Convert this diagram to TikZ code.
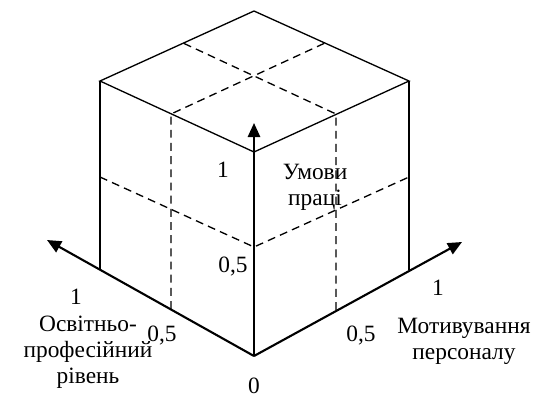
\documentclass[tikz,border=0pt]{standalone}
\usepackage{fontspec}
\setmainfont{Liberation Serif}
\newfontfamily\cubefont{Liberation Serif}
\usetikzlibrary{arrows.meta}

\begin{document}
\begin{tikzpicture}[
  x=0.02cm, y=-0.02cm,
  >={Triangle[length=8pt, width=7pt]},
  edge/.style={line width=0.75pt},
  axis/.style={->, line width=1.2pt},
  grid/.style={line width=0.75pt, dash pattern=on 4.5pt off 3pt},
  lbl/.style={font=\cubefont\fontsize{13.3}{14.8}\selectfont, inner sep=0pt, align=center}
]
  \useasboundingbox (0,0) rectangle (538,397);
  % vertices of the cube
  \coordinate (O)  at (254,356);
  \coordinate (F)  at (254,152);
  \coordinate (L)  at (100,269);
  \coordinate (LT) at (100,81);
  \coordinate (R)  at (409,270);
  \coordinate (RT) at (409,81);
  \coordinate (B)  at (254,11);
  % axis tips
  \coordinate (zt) at (254,123);
  \coordinate (xt) at (47,240);
  \coordinate (yt) at (462,242);
  % points of the dashed grid
  \coordinate (m1) at (171,114);
  \coordinate (m2) at (336,114);
  \coordinate (m3) at (183,43);
  \coordinate (m4) at (325,43);
  \coordinate (b1) at (171,309);
  \coordinate (b2) at (336,310);
  \coordinate (h1) at (100,177);
  \coordinate (h2) at (254,247);
  \coordinate (h3) at (409,177);
  % solid edges
  \draw[edge] (LT) -- (F) -- (RT) -- (B) -- cycle;
  \draw[edge] (LT) -- (L);
  \draw[edge] (RT) -- (R);
  % dashed grid
  \draw[grid] (b1) -- (m1) -- (m4);
  \draw[grid] (b2) -- (m2) -- (m3);
  \draw[grid] (h1) -- (h2) -- (h3);
  % axes
  \draw[axis] (O) -- (zt);
  \draw[axis] (O) -- (xt);
  \draw[axis] (O) -- (yt);
  % labels
  \node[lbl] (z1)  at (223,170) {1};
  \node[lbl] (zn)  at (315,187) {Умови\\праці};
  \node[lbl] (z05) at (233,267) {0,5};
  \node[lbl] (x1)  at (76,297)  {1};
  \node[lbl] (x05) at (162,336) {0,5};
  \node[lbl] (xn)  at (88,352)  {Освітньо-\\професійний\\рівень};
  \node[lbl] (o)   at (254,386) {0};
  \node[lbl] (y1)  at (438,288) {1};
  \node[lbl] (y05) at (361,336) {0,5};
  \node[lbl] (yn)  at (464,341) {Мотивування\\персоналу};
\end{tikzpicture}
\end{document}
